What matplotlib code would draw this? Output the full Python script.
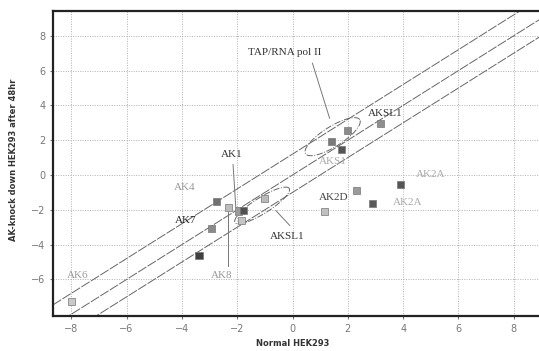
import numpy as np
import matplotlib
matplotlib.use("Agg")
import matplotlib.pyplot as plt

# data (log2 ratios)
x_vals = [-8.0, -2.75, -2.32, -2.92, -3.38, -1.94, -1.76, -1.85, -1.0,
          2.0, 1.4, 1.76, 3.17, 3.92, 2.3, 2.9, 1.16]
y_vals = [-7.28, -1.5, -1.86, -3.1, -4.6, -2.07, -2.03, -2.59, -1.35,
          2.55, 1.91, 1.49, 2.97, -0.54, -0.9, -1.63, -2.1]
shades = ['#c8c8c8', '#707070', '#bdbdbd', '#8a8a8a', '#404040', '#9a9a9a',
          '#505050', '#c4c4c4', '#bababa', '#8a8a8a', '#7a7a7a', '#555555',
          '#8f8f8f', '#555555', '#9a9a9a', '#5a5a5a', '#c0c0c0']

band_offsets = [1.2, 0.0, -1.0]

labels = ['TAP/RNA pol II', 'AK1', 'AKSL1', 'AKSL1', 'AKS1', 'AK2D',
          'AK2A', 'AK2A', 'AK4', 'AK7', 'AK6', 'AK8']
label_x = [-0.3, -2.2, -0.2, 3.35, 1.45, 1.5, 5.0, 4.15, -3.9, -3.85, -7.75, -2.55]
label_y = [7.05, 1.15, -3.55, 3.55, 0.8, -1.3, 0.0, -1.6, -0.7, -2.6, -5.8, -5.8]
label_col = ['#333333', '#333333', '#333333', '#333333', '#aaaaaa', '#444444',
             '#aaaaaa', '#aaaaaa', '#999999', '#222222', '#999999', '#999999']

fig = plt.figure(figsize=(5.39, 3.51), dpi=100)
ax = fig.add_axes([53 / 539, 1 - 316 / 351, 1 - 53 / 539 + 0.002, (316 - 11) / 351])
xlim = (-8.66, 8.95)
ylim = (-8.1, 9.42)
ax.set_xlim(*xlim)
ax.set_ylim(*ylim)

# grid
ax.set_xticks(np.arange(-8, 9, 2))
ax.set_yticks(np.arange(-6, 9, 2))
ax.grid(True, linestyle=(0, (1, 1.5)), color='#b0b0b0', linewidth=0.7)
ax.tick_params(labelsize=7, colors='#777777', length=2)
for sp in ax.spines.values():
    sp.set_linewidth(1.6)
    sp.set_color('#222222')
ax.spines['right'].set_visible(False)

# band lines
xx = np.array(xlim)
for off in band_offsets:
    ax.plot(xx, xx + off, color='#666666', linewidth=0.7,
            linestyle=(0, (10, 1.5)), zorder=2)

# points
ax.scatter(x_vals, y_vals, marker='s', s=26, c=shades, edgecolors='#777777',
           linewidths=0.5, zorder=3)

# ellipses along the diagonal
px_x = 539 * ax.get_position().width / (xlim[1] - xlim[0])
px_y = 351 * ax.get_position().height / (ylim[1] - ylim[0])
dir_px = np.array([px_x, px_y]) / np.hypot(px_x, px_y)
perp_px = np.array([-dir_px[1], dir_px[0]])


def ellipse(cx, cy, a_px, b_px):
    t = np.linspace(0, 2 * np.pi, 120)
    dx = a_px * np.cos(t) * dir_px[0] + b_px * np.sin(t) * perp_px[0]
    dy = a_px * np.cos(t) * dir_px[1] + b_px * np.sin(t) * perp_px[1]
    ax.plot(cx + dx / px_x, cy + dy / px_y, color='#666666', linewidth=0.7,
            linestyle='-.', zorder=2)


ellipse(1.45, 2.2, 32, 10)
ellipse(-1.1, -1.75, 32, 8)

# leader lines
leaders = [((0.72, 1.34), (6.42, 3.26)),
           ((-2.15, -2.05), (0.6, -1.9)),
           ((-2.33, -2.33), (-5.2, -2.1)),
           ((-0.1, -0.6), (-2.9, -2.05))]
for lx, ly in leaders:
    ax.plot(lx, ly, color='#777777', linewidth=0.7, zorder=2)

for txt, tx, ty, c in zip(labels, label_x, label_y, label_col):
    ax.text(tx, ty, txt, fontsize=8, family='Liberation Serif', color=c,
            ha='center', va='center', zorder=4)

fig.text(293 / 539, 1 - 343 / 351, 'Normal HEK293', fontsize=6, weight='bold',
         ha='center', va='center', color='#333333')
fig.text(14 / 539, 1 - 160 / 351, 'AK-knock down HEK293 after 48hr', fontsize=6,
         weight='bold', rotation=90, ha='center', va='center', color='#333333')

fig.savefig('out.png', dpi=100)
